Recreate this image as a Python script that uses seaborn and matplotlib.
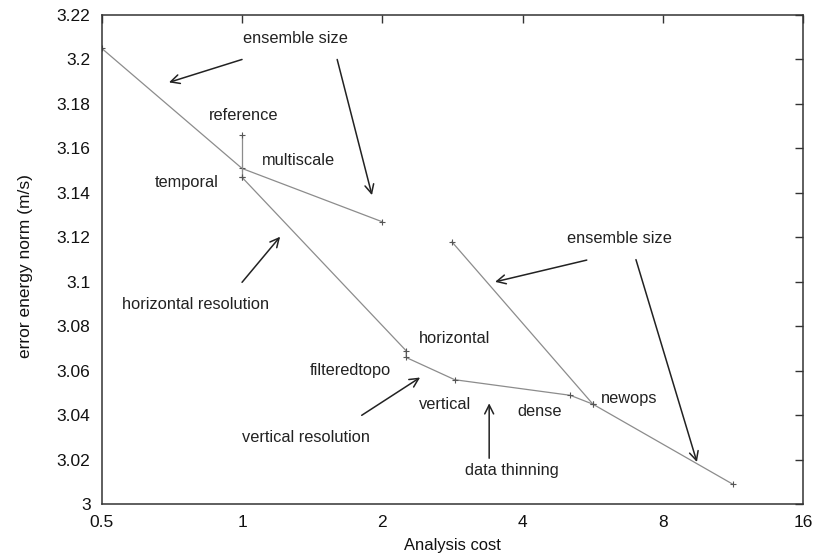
import matplotlib
matplotlib.use('Agg')
import matplotlib.pyplot as plt
import seaborn as sns
import pandas as pd
import numpy as np

# ---- data ----
# ensemble size / multiscale path
ens_cost = [0.5, 1.0, 2.0]
ens_err = [3.205, 3.151, 3.127]
# reference -> temporal (vertical at cost 1)
ref_cost = [1.0, 1.0]
ref_err = [3.166, 3.147]
# main resolution / thinning path
main_cost = [1.0, 2.25, 2.25, 2.86, 5.06, 5.66, 11.3]
main_err = [3.147, 3.069, 3.066, 3.056, 3.049, 3.045, 3.009]
# second ensemble size path
ens2_cost = [2.82, 5.66]
ens2_err = [3.118, 3.045]

labels = ['reference', 'multiscale', 'temporal', 'horizontal', 'filteredtopo',
          'vertical', 'dense', 'newops', 'ensemble size', 'ensemble size',
          'horizontal resolution', 'vertical resolution', 'data thinning']
label_x = [1.01, 1.32, 0.76, 2.86, 1.71, 2.73, 4.36, 6.78, 1.30, 6.46, 0.552, 1.37, 3.79]
label_y = [3.1747, 3.1544, 3.1445, 3.0746, 3.060, 3.045, 3.0416, 3.0476, 3.2094, 3.1196,
           3.090, 3.030, 3.015]

# arrows: (tail) -> (head)
arrow_tail = [(1.0, 3.200), (1.60, 3.200), (1.0, 3.0998), (1.806, 3.040),
              (3.39, 3.0207), (5.49, 3.1098), (7.0, 3.110)]
arrow_head = [(0.697, 3.1897), (1.90, 3.139), (1.207, 3.1203), (2.41, 3.057),
              (3.39, 3.0454), (3.49, 3.100), (9.46, 3.019)]

df = pd.concat([
    pd.DataFrame({'cost': ens_cost, 'err': ens_err, 'path': 'ens'}),
    pd.DataFrame({'cost': ref_cost, 'err': ref_err, 'path': 'ref'}),
    pd.DataFrame({'cost': main_cost, 'err': main_err, 'path': 'main'}),
    pd.DataFrame({'cost': ens2_cost, 'err': ens2_err, 'path': 'ens2'}),
], ignore_index=True)

sns.set_style('white')
plt.rcParams['font.family'] = ['Liberation Sans', 'DejaVu Sans']

fig = plt.figure(figsize=(8.29, 5.55), dpi=100)
ax = fig.add_axes([0.1227, 0.0914, 0.969 - 0.1227, 0.973 - 0.0914])

sns.lineplot(data=df, x='cost', y='err', units='path', estimator=None, sort=False,
             color='#8c8c8c', lw=0.9, marker='+', markersize=5, markeredgewidth=0.8,
             markeredgecolor='#555555', legend=False, ax=ax)

for txt, lx, ly in zip(labels, label_x, label_y):
    ha = 'left' if txt == 'horizontal resolution' else 'center'
    ax.text(lx, ly, txt, ha=ha, va='center', fontsize=11.8, color='#222222')

for (tx, ty), (hx, hy) in zip(arrow_tail, arrow_head):
    ax.annotate('', xy=(hx, hy), xytext=(tx, ty),
                arrowprops=dict(arrowstyle='->', color='#222222', lw=1.1,
                                mutation_scale=16, shrinkA=0, shrinkB=0))

ax.set_xscale('log', base=2)
ax.set_xlim(0.5, 16)
ax.set_ylim(3.0, 3.22)
ax.set_xticks([0.5, 1, 2, 4, 8, 16])
ax.set_xticklabels(['0.5', '1', '2', '4', '8', '16'])
ax.xaxis.set_minor_locator(matplotlib.ticker.NullLocator())
ax.set_yticks(np.arange(3.0, 3.2201, 0.02))
ax.set_yticklabels(['3', '3.02', '3.04', '3.06', '3.08', '3.1', '3.12', '3.14',
                    '3.16', '3.18', '3.2', '3.22'])
ax.tick_params(direction='in', length=6, width=1, top=True, right=True,
               labelsize=12.5, colors='#333333', labelcolor='#111111', pad=8)
for s in ax.spines.values():
    s.set_color('#333333')
    s.set_linewidth(1.1)

ax.set_xlabel('Analysis cost', fontsize=11.9, color='#111111')
ax.set_ylabel('error energy norm (m/s)', fontsize=12.5, color='#111111')
ax.xaxis.set_label_coords(0.5, -0.085)
ax.yaxis.set_label_coords(-0.109, 0.487)
ax.xaxis.label.set_va('center')
ax.yaxis.label.set_va('center')

fig.savefig('out.png', dpi=100)
